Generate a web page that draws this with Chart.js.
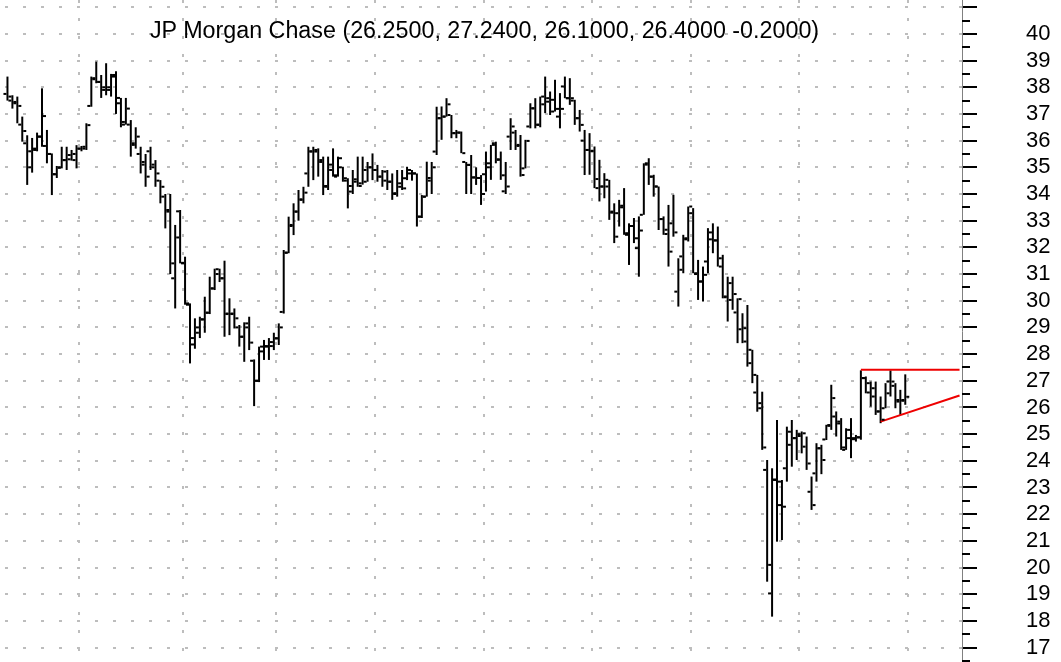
<!DOCTYPE html>
<html>
<head>
<meta charset="utf-8">
<script src="https://cdn.jsdelivr.net/npm/chart.js@4.4.1/dist/chart.umd.min.js"></script>
<style>
    html, body { margin: 0; padding: 0; background: #fff; }
    #wrap { position: relative; width: 1061px; height: 662px; overflow: hidden; }
    #baslik { position: absolute; left: 0; top: 17px; width: 969px; text-align: center; line-height: 1;
              font: 23.3px "Liberation Sans", Arial, sans-serif; color: #000; white-space: nowrap; }
</style>
</head>
<body>
<div id="wrap">
    <canvas id="jpmChart" width="1061" height="662"></canvas>
    <div id="baslik">JP Morgan Chase (26.2500, 27.2400, 26.1000, 26.4000 -0.2000)</div>
</div>
<script>
// daily bars, Dec 2001 .. Aug 2002 (one line per month)
const opens = [
    37.75, 37.5, 37.4, 36.6, 35.9, 35.0, 35.7, 36.15, 35.8, 35.5, 34.74, 35.0, 35.27, 35.3, 35.27,
    35.7, 35.7, 37.3, 38.3, 38.2, 37.9, 37.9, 38.4, 37.4, 36.7, 36.6, 35.9, 35.5, 35.1, 35.6, 35.0, 34.5, 33.9, 33.4, 30.84, 33.35,
    31.4, 29.85, 28.6, 28.8, 29.3, 29.55, 30.46, 31.0, 30.84, 29.5, 29.5, 29.0, 28.65, 29.0, 27.75, 27.0, 28.1, 28.3, 28.3,
    28.59, 29.58, 31.8, 32.8, 33.34, 33.8, 34.77, 35.6, 35.59, 35.2, 34.3, 35.1, 34.7, 35.0, 34.5, 34.3, 34.46, 34.4, 34.9, 35.0,
    34.9, 34.65, 34.84, 34.46, 34.0, 34.4, 34.59, 34.77, 34.77, 33.15, 33.9, 34.6, 35.59, 36.84, 36.9, 36.96, 36.28, 36.3, 35.2, 35.09, 34.62, 34.6,
    34.74, 35.0, 35.9, 35.3, 34.1, 36.15, 36.3, 35.8, 34.96, 36.53, 37.21, 36.6, 37.65, 37.46, 37.53, 36.9, 38.03, 37.59, 37.5, 36.84, 36.0, 35.65,
    35.6, 34.56, 34.28, 34.53, 33.3, 33.28, 33.5, 32.47, 32.8, 31.97, 33.22, 35.1, 34.65, 34.28, 33.06, 32.5, 32.9, 30.34, 31.66, 32.3,
    33.28, 31.0, 30.72, 31.47, 32.3, 32.26, 31.59, 30.13, 30.66, 29.56, 28.93, 28.97, 27.66, 26.56, 25.97, 23.66, 19.03, 23.3, 23.22, 23.72, 24.6, 24.85,
    25.0, 24.53, 22.84, 23.53, 24.47, 24.8, 25.34, 25.66, 25.4, 24.5, 24.85, 24.81, 24.88, 27.1, 26.91, 26.72, 25.85, 25.97, 26.97, 26.81, 26.28, 26.25
];
const highs = [
    38.4, 37.7, 37.65, 36.9, 36.2, 36.1, 36.3, 37.96, 36.4, 35.52, 35.05, 35.77, 35.77, 35.65, 35.83,
    35.8, 36.65, 38.4, 38.96, 38.46, 38.9, 38.5, 38.6, 37.6, 37.6, 36.77, 36.5, 35.77, 35.5, 35.77, 35.27, 34.52, 34.0, 34.0, 32.84, 33.4,
    31.65, 29.9, 29.34, 29.4, 30.15, 30.9, 31.2, 31.2, 31.5, 30.09, 29.71, 29.09, 29.19, 29.4, 27.8, 28.28, 28.53, 28.6, 28.8,
    29.15, 31.9, 33.15, 33.65, 34.15, 34.27, 35.77, 35.77, 35.71, 35.4, 35.4, 35.71, 35.4, 35.02, 34.59, 34.9, 35.4, 35.4, 35.2, 35.52,
    35.09, 34.9, 34.9, 34.77, 34.9, 34.9, 35.02, 34.9, 34.77, 33.96, 35.21, 35.2, 37.27, 37.28, 37.59, 36.96, 36.4, 36.34, 35.2, 35.46, 35.0, 34.71,
    35.59, 35.84, 35.96, 35.59, 35.2, 36.84, 36.4, 36.21, 36.03, 37.4, 37.59, 37.65, 38.4, 37.84, 38.28, 37.78, 38.4, 38.34, 37.53, 37.15, 36.4, 36.28,
    35.78, 35.28, 34.78, 34.53, 33.65, 33.78, 34.22, 32.9, 33.1, 33.16, 35.15, 35.34, 34.72, 34.28, 33.16, 33.59, 33.97, 31.59, 32.47, 33.53,
    33.47, 31.53, 31.28, 32.72, 32.9, 32.78, 31.72, 30.9, 30.9, 30.09, 29.53, 29.84, 28.16, 27.22, 26.59, 24.03, 23.72, 25.53, 23.28, 25.28, 25.53, 25.16,
    25.1, 24.91, 23.41, 24.66, 24.6, 25.35, 26.85, 25.85, 25.6, 25.22, 25.6, 24.97, 27.39, 27.16, 26.97, 26.97, 26.41, 26.91, 27.39, 26.91, 26.66, 27.24
];
const lows = [
    37.5, 37.2, 36.65, 35.96, 34.34, 34.8, 35.6, 35.77, 35.15, 33.96, 34.6, 34.96, 34.9, 35.25, 34.96,
    35.6, 35.65, 37.27, 38.15, 37.6, 37.7, 37.65, 37.0, 36.5, 36.6, 35.4, 35.7, 34.77, 34.27, 34.9, 34.27, 33.65, 32.71, 31.0, 29.71, 31.4,
    29.85, 27.65, 28.2, 28.6, 28.8, 29.5, 30.4, 30.7, 28.65, 28.71, 28.96, 28.28, 27.71, 28.15, 26.05, 26.95, 27.78, 27.78, 28.15,
    28.34, 29.52, 31.78, 32.46, 33.0, 33.65, 34.27, 34.52, 34.65, 33.96, 34.15, 34.65, 34.65, 34.46, 33.46, 34.0, 34.27, 34.35, 34.46, 34.52,
    34.46, 34.27, 34.15, 33.78, 33.9, 34.15, 34.52, 34.5, 32.78, 33.1, 33.9, 34.0, 35.46, 36.03, 36.9, 36.09, 36.09, 35.53, 34.0, 34.0, 34.34, 33.59,
    34.09, 34.53, 35.15, 34.53, 34.0, 35.65, 35.65, 34.65, 34.96, 36.46, 36.46, 36.5, 37.03, 36.96, 37.09, 36.46, 37.59, 37.34, 36.59, 36.34, 34.71, 34.72,
    34.22, 33.72, 33.84, 33.03, 32.16, 32.78, 32.47, 31.34, 32.16, 30.9, 33.22, 34.34, 33.9, 32.65, 32.47, 31.28, 32.4, 29.78, 31.03, 32.22,
    31.03, 30.03, 29.97, 31.03, 31.78, 31.28, 30.09, 29.22, 29.66, 28.41, 28.41, 27.53, 26.91, 25.84, 24.41, 19.47, 18.16, 20.97, 21.03, 23.22, 23.78, 24.03,
    24.28, 23.66, 22.16, 23.22, 23.5, 24.78, 25.16, 24.91, 24.41, 24.41, 24.1, 24.72, 24.79, 26.53, 26.03, 25.72, 25.41, 25.97, 26.41, 25.97, 25.72, 26.10
];
const closes = [
    37.65, 37.45, 37.3, 36.36, 35.6, 35.65, 36.15, 36.92, 35.5, 34.74, 34.98, 35.27, 35.46, 35.5, 35.7,
    35.77, 36.58, 38.34, 38.2, 38.0, 38.0, 38.46, 37.6, 36.6, 37.2, 35.84, 36.15, 35.2, 34.65, 35.1, 34.77, 34.27, 33.34, 31.4, 32.37, 31.42,
    29.9, 28.36, 29.0, 29.3, 29.55, 30.46, 31.18, 30.84, 29.52, 29.52, 29.34, 28.65, 29.15, 28.43, 27.0, 28.28, 28.28, 28.45, 28.59,
    29.0, 31.8, 32.84, 33.34, 33.78, 34.05, 35.59, 35.65, 35.27, 34.27, 34.9, 34.65, 35.34, 34.59, 34.09, 34.55, 34.3, 34.46, 35.0, 34.9,
    34.65, 34.5, 34.46, 34.03, 34.27, 34.21, 34.9, 34.77, 33.15, 33.9, 34.5, 35.0, 36.84, 36.9, 37.36, 36.28, 36.3, 35.53, 35.09, 34.62, 34.6, 34.0,
    35.15, 35.84, 35.28, 34.7, 34.28, 36.53, 35.84, 34.71, 35.99, 37.21, 36.59, 37.36, 37.59, 37.09, 37.19, 37.19, 37.59, 37.59, 36.84, 36.59, 35.65, 35.62,
    34.22, 34.28, 34.28, 33.34, 32.4, 33.56, 32.53, 32.8, 32.34, 32.63, 35.15, 34.65, 34.28, 33.06, 32.66, 31.84, 32.56, 31.16, 32.34, 33.53,
    31.03, 30.72, 30.97, 32.56, 32.26, 31.28, 30.16, 30.03, 30.25, 30.06, 28.47, 28.16, 27.22, 26.16, 24.5, 20.1, 23.28, 22.34, 22.28, 25.09, 24.85, 24.93,
    25.03, 23.9, 22.34, 24.47, 24.03, 25.31, 26.35, 25.47, 24.41, 25.16, 24.85, 24.88, 27.1, 26.56, 26.41, 25.85, 25.54, 26.53, 26.97, 26.22, 26.28, 26.40
];

// first bar of each month (Jan .. Sep) -> dotted vertical lines
const monthStarts = [15, 36, 55, 75, 97, 119, 139, 161, 183];
// price axis
const priceTicks = [17, 18, 19, 20, 21, 22, 23, 24, 25, 26, 27, 28, 29, 30, 31, 32, 33, 34, 35, 36, 37, 38, 39, 40, 41];
const priceMin = 16.46;
const priceMax = 41.27;
// red trend lines: [bar index], [price]
const resistanceIdx = [173, 193];
const resistanceVal = [27.41, 27.41];
const supportIdx = [177, 193];
const supportVal = [25.47, 26.45];

const slotCount = 194; // trading days + empty space right of last bar
const labels = Array.from({ length: slotCount }, (_, i) => i);
const hlRanges = lows.map((l, i) => [l, highs[i]]);

function sparseLine(idx, vals) {
    const arr = new Array(slotCount).fill(null);
    idx.forEach((k, j) => { arr[k] = vals[j]; });
    return arr;
}

const fontAile = '"Liberation Sans", Arial, sans-serif';
const noktaRenk = '#bdbdbd';

// open/close ticks
const ohlcTicks = {
    id: 'ohlcTicks',
    afterDatasetsDraw(chart) {
        const { ctx, scales: { x, y } } = chart;
        ctx.save();
        ctx.fillStyle = '#000';
        opens.forEach((o, i) => {
            const px = x.getPixelForValue(i);
            ctx.fillRect(px - 4, y.getPixelForValue(o) - 1, 3, 2);
            ctx.fillRect(px + 1, y.getPixelForValue(closes[i]) - 1, 3, 2);
        });
        ctx.restore();
    }
};

// short half-step ticks on the price axis
const minorTicks = {
    id: 'minorTicks',
    afterDraw(chart) {
        const { ctx, scales: { y } } = chart;
        ctx.save();
        ctx.strokeStyle = '#000';
        ctx.lineWidth = 2;
        priceTicks.forEach(v => {
            const py = Math.round(y.getPixelForValue(v - 0.5));
            ctx.beginPath();
            ctx.moveTo(y.left, py);
            ctx.lineTo(y.left + 8, py);
            ctx.stroke();
        });
        ctx.restore();
    }
};

new Chart(document.getElementById('jpmChart').getContext('2d'), {
    type: 'bar',
    data: {
        labels: labels,
        datasets: [{
            type: 'line',
            data: sparseLine(resistanceIdx, resistanceVal),
            borderColor: '#ee0000',
            borderWidth: 2,
            pointRadius: 0,
            spanGaps: true,
            fill: false,
            order: 1
        }, {
            type: 'line',
            data: sparseLine(supportIdx, supportVal),
            borderColor: '#ee0000',
            borderWidth: 2,
            pointRadius: 0,
            spanGaps: true,
            fill: false,
            order: 1
        }, {
            data: hlRanges,
            backgroundColor: '#000',
            borderWidth: 0,
            barThickness: 2,
            inflateAmount: 0,
            order: 2
        }]
    },
    options: {
        responsive: false,
        animation: false,
        devicePixelRatio: 1,
        layout: { padding: { left: 5, right: 0, top: 0, bottom: 0 } },
        plugins: { legend: { display: false }, tooltip: { enabled: false } },
        scales: {
            x: {
                type: 'category',
                offset: true,
                grid: {
                    offset: true,
                    drawTicks: false,
                    lineWidth: 2,
                    color: ctx => monthStarts.includes(ctx.index) ? noktaRenk : 'rgba(0,0,0,0)'
                },
                border: { display: false, dash: [3, 15] },
                ticks: { display: false, autoSkip: false },
                afterFit: s => { s.height = 0; s.paddingLeft = 0; s.paddingRight = 0; }
            },
            y: {
                type: 'linear',
                position: 'right',
                min: priceMin,
                max: priceMax,
                afterBuildTicks: s => { s.ticks = priceTicks.map(v => ({ value: v })); },
                afterFit: s => { s.width = 99; s.paddingTop = 0; s.paddingBottom = 0; },
                grid: {
                    color: noktaRenk,
                    lineWidth: 2,
                    tickColor: '#000',
                    tickWidth: 2,
                    tickLength: 15
                },
                border: { display: true, color: '#808080', width: 1, dash: [3, 15] },
                ticks: {
                    padding: 49,
                    autoSkip: false,
                    color: '#000',
                    font: { family: fontAile, size: 22 },
                    callback: v => v <= 40 ? v : ''
                }
            }
        }
    },
    plugins: [ohlcTicks, minorTicks]
});
</script>
</body>
</html>
